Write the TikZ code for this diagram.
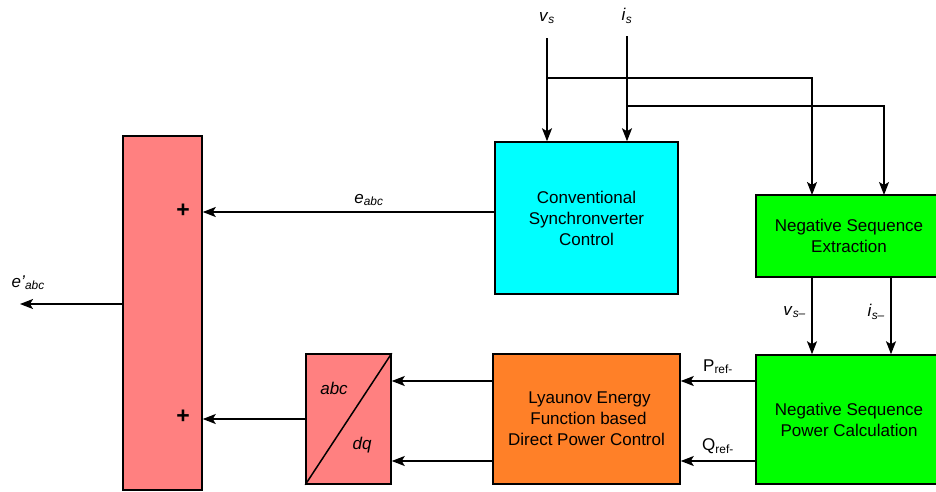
\documentclass[tikz,border=0pt]{standalone}
\usepackage{fontspec}
\setmainfont{Liberation Sans}
\usetikzlibrary{arrows.meta}
\definecolor{sumred}{RGB}{255,128,128}
\definecolor{convcyan}{RGB}{0,255,255}
\definecolor{seqgreen}{RGB}{0,255,0}
\definecolor{lyaporange}{RGB}{255,128,40}
\newcommand{\sig}[2]{\textit{#1}\textsubscript{\textit{#2}}}
\tikzset{
  block/.style={draw, line width=1.5pt, align=center, inner sep=0pt},
  arr/.style={line width=1.5pt, -{Stealth[length=13pt,width=10pt,inset=3pt]}},
  wire/.style={line width=1.5pt},
  plus/.style={font=\fontsize{23}{23}\selectfont\bfseries}
}
\begin{document}
\begin{tikzpicture}[x=1pt,y=-1pt,font=\fontsize{17}{21}\selectfont]
			\useasboundingbox (0,0) rectangle (936,491);
			% blocks
			\node[block, fill=sumred, minimum width=79pt, minimum height=354pt] (sum) at (162.5,313) {};
			\node[block, fill=convcyan, minimum width=183pt, minimum height=152pt] (conv) at (586.5,218) {Conventional\\Synchronverter\\Control};
			\node[block, fill=seqgreen, minimum width=186pt, minimum height=82pt] (nse) at (849,236) {Negative Sequence\\Extraction};
			\node[block, fill=seqgreen, minimum width=186pt, minimum height=129pt] (nspc) at (849,419.5) {Negative Sequence\\Power Calculation};
			\node[block, fill=lyaporange, minimum width=187pt, minimum height=130pt] (lyap) at (586.5,419) {\hspace*{6pt}Lyaunov Energy\\\hspace*{4pt}Function based\\Direct Power Control};
			\node[block, fill=sumred, minimum width=85pt, minimum height=130pt] (frame) at (348.5,419) {};
			\draw[wire] (frame.south west) -- (frame.north east);
			\node (abc) at (334,388) {\textit{abc}};
			\node (dq) at (362,445) {\textit{dq}};
			\node[plus] (plusE) at (183,211) {+};
			\node[plus] (plusF) at (183,417) {+};
			% inputs and levels
			\coordinate (vsin) at (547,38);
			\coordinate (isin) at (627,36);
			\coordinate (vstap) at (547,78);
			\coordinate (istap) at (627,106);
			\coordinate (yE) at (0,212);
			\coordinate (yP) at (0,381);
			\coordinate (yQ) at (0,461);
			\coordinate (yOut) at (0,304);
			\coordinate (eout) at (20,304);
			\node (vslbl) at (547,18) {\sig{v}{s}};
			\node (islbl) at (627,16) {\sig{i}{s}};
			% connectors
			\draw[arr] (vsin) -- (vsin |- conv.north);
			\draw[arr] (isin) -- (isin |- conv.north);
			\draw[arr] (vstap) -| (812,195);
			\draw[arr] (istap) -| (884,195);
			\draw[arr] (nse.south -| 812,0) -- (nspc.north -| 812,0) node[pos=0.45,left=2pt] {\sig{v}{s–}};
			\draw[arr] (nse.south -| 891,0) -- (nspc.north -| 891,0) node[pos=0.45,left=2pt] {\sig{i}{s–}};
			\draw[arr] (nspc.west |- yP) -- (lyap.east |- yP) node[midway,above=3pt] {P\textsubscript{ref-}};
			\draw[arr] (nspc.west |- yQ) -- (lyap.east |- yQ) node[midway,above=3pt] {Q\textsubscript{ref-}};
			\draw[arr] (lyap.west |- yP) -- (frame.east |- yP);
			\draw[arr] (lyap.west |- yQ) -- (frame.east |- yQ);
			\draw[arr] (frame.west) -- (sum.east |- frame.west);
			\draw[arr] (conv.west |- yE) -- (sum.east |- yE) node[pos=0.43,above=2pt] {\sig{e}{abc}};
			\draw[arr] (sum.west |- yOut) -- (eout) node[pos=0.92,above=10pt] {\textit{e'}\textsubscript{\textit{abc}}};
		\end{tikzpicture}
\end{document}
